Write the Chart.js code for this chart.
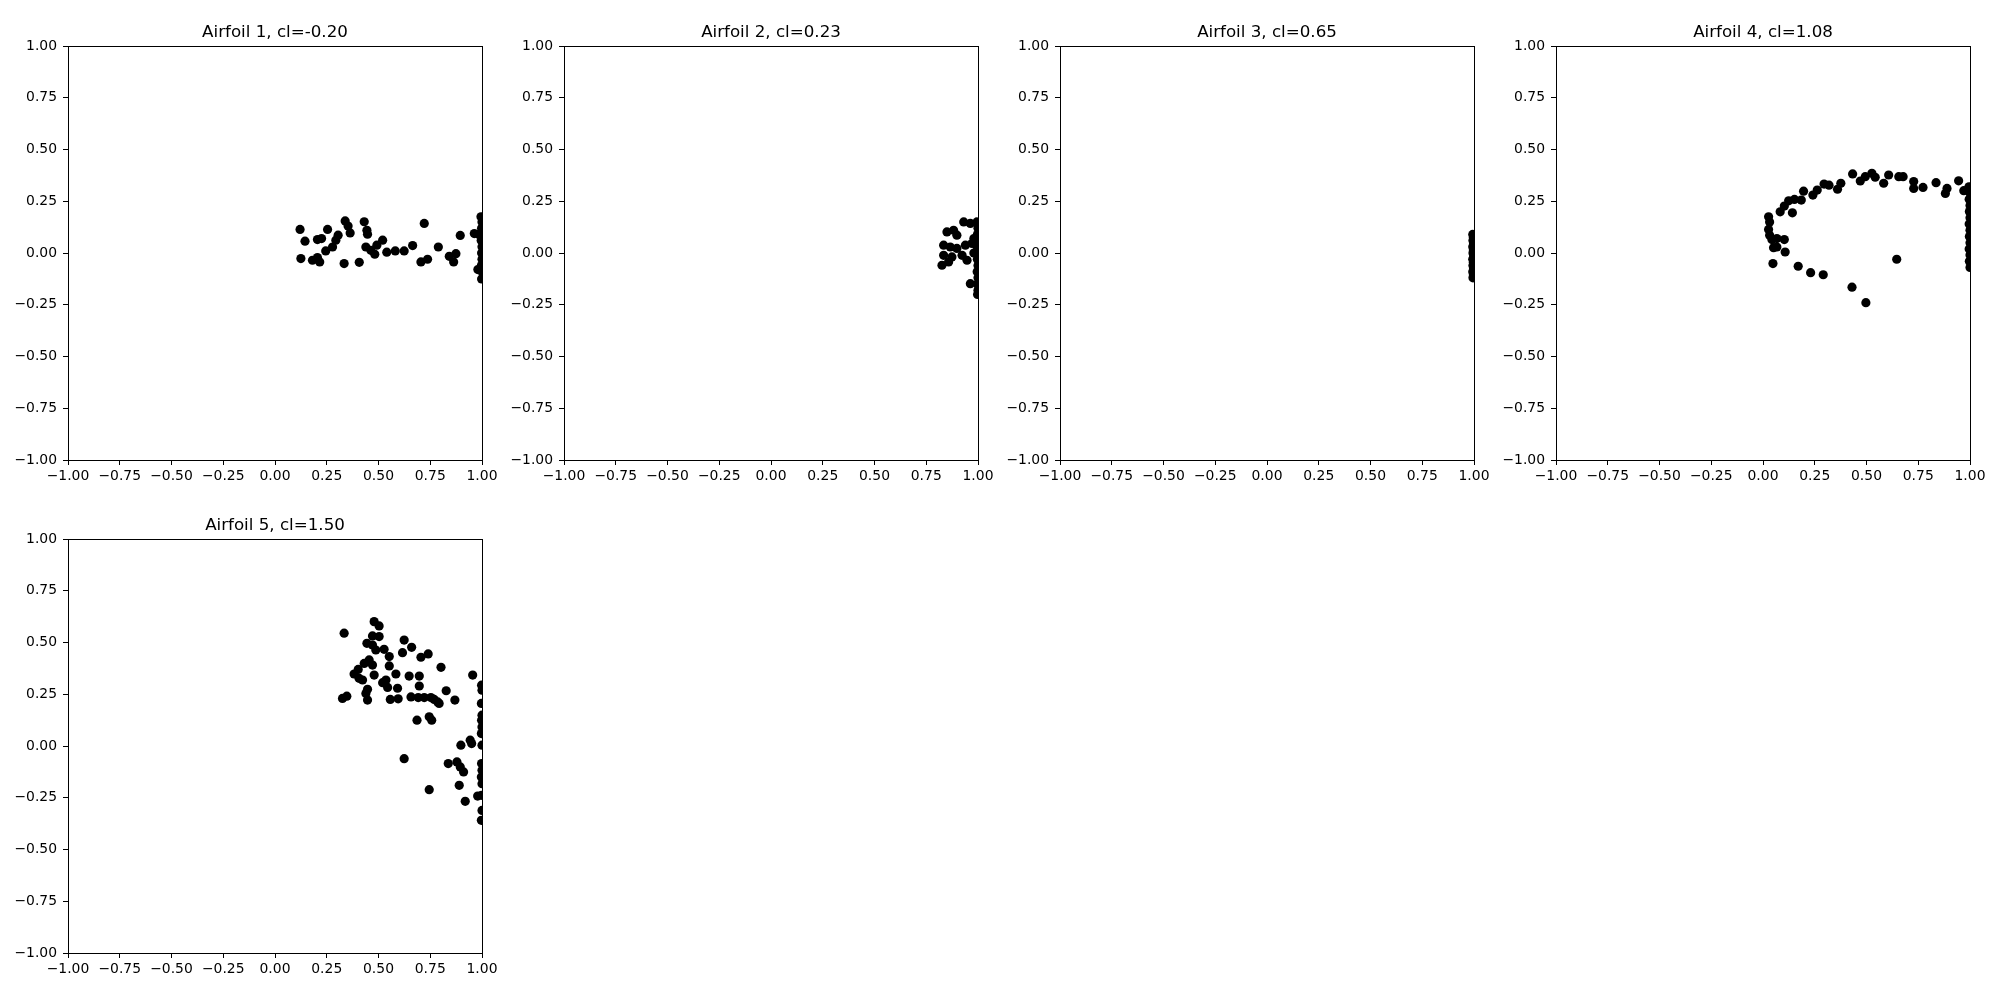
<!DOCTYPE html>
<html>
<head>
<meta charset="utf-8">
<script src="https://cdn.jsdelivr.net/npm/chart.js@4.4.1/dist/chart.umd.min.js"></script>
<style>
  html, body { margin: 0; padding: 0; background: #fff; width: 2000px; height: 1000px; overflow: hidden; }
  .panel { position: absolute; }
</style>
</head>
<body>
<script>
// ---------- data ----------
const titles = ["Airfoil 1, cl=-0.20", "Airfoil 2, cl=0.23", "Airfoil 3, cl=0.65", "Airfoil 4, cl=1.08", "Airfoil 5, cl=1.50"];
const tickValues = [-1.00, -0.75, -0.50, -0.25, 0.00, 0.25, 0.50, 0.75, 1.00];

const x1 = [0.121,0.145,0.125,0.181,0.205,0.216,0.205,0.225,0.254,0.245,0.278,0.294,0.305,0.339,0.353,0.363,0.334,0.407,0.431,0.444,0.447,0.439,0.463,0.482,0.492,0.520,0.540,0.581,0.624,0.665,0.721,0.705,0.737,0.789,0.842,0.863,0.874,0.895,0.963,0.980,
            0.995,1.000,0.998,0.985,0.996,1.000,0.998,1.000,0.997,1.000,0.998];
const y1 = [0.114,0.057,-0.027,-0.035,-0.022,-0.043,0.065,0.070,0.114,0.010,0.029,0.062,0.086,0.155,0.130,0.097,-0.051,-0.045,0.151,0.110,0.091,0.029,0.013,-0.006,0.038,0.062,0.004,0.010,0.010,0.036,0.143,-0.043,-0.030,0.029,-0.016,-0.043,-0.003,0.085,0.094,-0.080,
            0.175,0.150,0.120,0.090,0.060,0.030,0.000,-0.030,-0.060,-0.090,-0.125];

const x2 = [0.850,0.882,0.931,0.963,0.898,0.834,0.866,0.898,0.939,0.971,0.834,0.874,0.923,0.947,0.826,0.858,0.963,0.980,0.980,
            0.995,1.000,0.997,1.000,0.996,1.000,0.997,1.000,0.996,1.000,0.997,1.000,0.998];
const y2 = [0.102,0.110,0.150,0.143,0.086,0.038,0.029,0.022,0.038,0.046,-0.011,-0.019,-0.011,-0.035,-0.059,-0.043,-0.148,0.070,0.000,
            0.150,0.120,0.090,0.060,0.030,0.000,-0.030,-0.060,-0.090,-0.120,-0.150,-0.180,-0.200];

const x3 = [0.994,0.997,0.995,0.998,0.994,0.997,0.995,0.998,0.994,0.997,0.995,0.998,0.994,0.997,0.995];
const y3 = [0.090,0.075,0.060,0.045,0.030,0.015,0.000,-0.015,-0.030,-0.045,-0.060,-0.075,-0.090,-0.105,-0.120];

const x4 = [0.027,0.032,0.027,0.032,0.043,0.067,0.103,0.051,0.067,0.107,0.048,0.170,0.230,0.291,0.430,0.497,0.646,
            0.083,0.103,0.142,0.124,0.152,0.185,0.196,0.241,0.262,0.295,0.319,0.360,0.376,0.433,0.470,0.494,0.526,0.542,0.583,0.607,0.656,0.677,0.728,0.728,0.773,0.836,0.881,0.889,0.945,0.970,
            0.995,1.000,0.996,1.000,0.997,1.000,0.996,1.000,0.997,1.000,0.996,1.000,0.997,1.000];
const y4 = [0.175,0.150,0.114,0.086,0.065,0.070,0.065,0.026,0.029,0.005,-0.051,-0.064,-0.095,-0.105,-0.165,-0.240,-0.030,
            0.199,0.227,0.194,0.252,0.259,0.256,0.299,0.280,0.304,0.333,0.328,0.308,0.337,0.382,0.348,0.369,0.385,0.366,0.337,0.377,0.369,0.369,0.345,0.312,0.317,0.340,0.288,0.312,0.349,0.301,
            0.320,0.290,0.260,0.230,0.200,0.170,0.140,0.110,0.080,0.050,0.020,-0.010,-0.040,-0.070];

const x5 = [0.334,0.479,0.503,0.471,0.503,0.444,0.471,0.487,0.527,0.624,0.660,0.616,0.705,0.740,0.552,0.455,0.431,0.552,0.402,0.471,0.382,0.406,0.479,0.584,0.648,0.697,0.802,0.423,0.520,0.544,0.536,0.592,0.697,0.447,0.439,0.447,0.326,0.347,0.557,0.595,0.657,0.692,0.721,0.753,0.786,0.686,0.745,0.757,
            0.955,0.769,0.793,0.827,0.869,0.624,0.898,0.943,0.950,0.837,0.879,0.895,0.911,0.890,0.745,0.919,0.979,
            0.998,1.000,0.997,1.000,0.998,1.000,0.997,1.000,0.998,1.000,0.997,1.000,0.998,1.000,0.997];
const y5 = [0.545,0.601,0.580,0.532,0.529,0.496,0.488,0.464,0.467,0.512,0.477,0.451,0.429,0.445,0.432,0.416,0.399,0.387,0.370,0.391,0.348,0.327,0.343,0.348,0.338,0.338,0.380,0.319,0.306,0.283,0.319,0.279,0.290,0.274,0.254,0.222,0.230,0.241,0.225,0.228,0.237,0.234,0.234,0.234,0.213,0.125,0.141,0.125,
            0.343,0.225,0.206,0.267,0.222,-0.061,0.004,0.028,0.012,-0.085,-0.077,-0.101,-0.125,-0.190,-0.211,-0.267,-0.242,
            0.294,0.270,0.206,0.149,0.125,0.092,0.060,0.004,-0.085,-0.117,-0.150,-0.182,-0.238,-0.311,-0.359];

const xs = [x1, x2, x3, x4, x5];
const ys = [y1, y2, y3, y4, y5];

// ---------- layout ----------
const plotLefts = [68, 564, 1060, 1556, 68];
const plotTops = [46, 46, 46, 46, 539];
const PLOT = 414, PAD_L = 70, PAD_T = 50, PAD_R = 30, PAD_B = 40;
const FONT = "'DejaVu Sans', sans-serif";

function fmt(v) {
  const r = Math.round(v * 100) / 100;
  return (r < 0 ? '\u2212' : '') + Math.abs(r).toFixed(2);
}

const framePlugin = {
  id: 'frame',
  afterDraw(chart) {
    const a = chart.chartArea, ctx = chart.ctx;
    ctx.save();
    ctx.strokeStyle = '#000';
    ctx.lineWidth = 1;
    ctx.strokeRect(Math.round(a.left) + 0.5, Math.round(a.top) + 0.5, Math.round(a.right - a.left), Math.round(a.bottom - a.top));
    ctx.restore();
  }
};

for (let i = 0; i < 5; i++) {
  const div = document.createElement('div');
  div.className = 'panel';
  div.style.left = (plotLefts[i] - PAD_L) + 'px';
  div.style.top = (plotTops[i] - PAD_T) + 'px';
  const cv = document.createElement('canvas');
  const W = PAD_L + PLOT + PAD_R, H = PAD_T + PLOT + PAD_B;
  cv.width = W; cv.height = H;
  cv.style.width = W + 'px'; cv.style.height = H + 'px';
  div.appendChild(cv);
  document.body.appendChild(div);

  const pts = xs[i].map((x, k) => ({ x: x, y: ys[i][k] }));
  const axisCommon = {
    type: 'linear', min: -1, max: 1,
    afterBuildTicks: (s) => { s.ticks = tickValues.map(v => ({ value: v })); },
    grid: { drawOnChartArea: false, drawTicks: true, tickLength: 5, color: '#000', lineWidth: 1 },
    border: { display: true, color: '#000', width: 1 },
  };
  new Chart(cv, {
    type: 'scatter',
    data: { datasets: [{ data: pts, backgroundColor: '#000', borderColor: '#000', borderWidth: 0, pointRadius: 4.6, pointHoverRadius: 4.6, clip: 0 }] },
    options: {
      responsive: false, animation: false, devicePixelRatio: 1,
      layout: { padding: { left: 0, top: 0, right: PAD_R, bottom: 0 } },
      plugins: {
        legend: { display: false },
        tooltip: { enabled: false },
        title: { display: true, text: titles[i], color: '#000', fullSize: false,
                 font: { family: FONT, size: 16.7, weight: 'normal', lineHeight: 1.2 },
                 padding: { top: 27, bottom: 3 } }
      },
      scales: {
        x: Object.assign({}, axisCommon, {
          position: 'bottom',
          ticks: { color: '#000', font: { family: FONT, size: 13.9 }, padding: 3, maxRotation: 0, autoSkip: false, callback: (v) => fmt(v) },
          afterFit: (s) => { s.height = PAD_B; }
        }),
        y: Object.assign({}, axisCommon, {
          position: 'left',
          ticks: { color: '#000', font: { family: FONT, size: 13.9 }, padding: 6, autoSkip: false, callback: (v) => fmt(v) },
          afterFit: (s) => { s.width = PAD_L; }
        })
      }
    },
    plugins: [framePlugin]
  });
}
</script>
</body>
</html>
